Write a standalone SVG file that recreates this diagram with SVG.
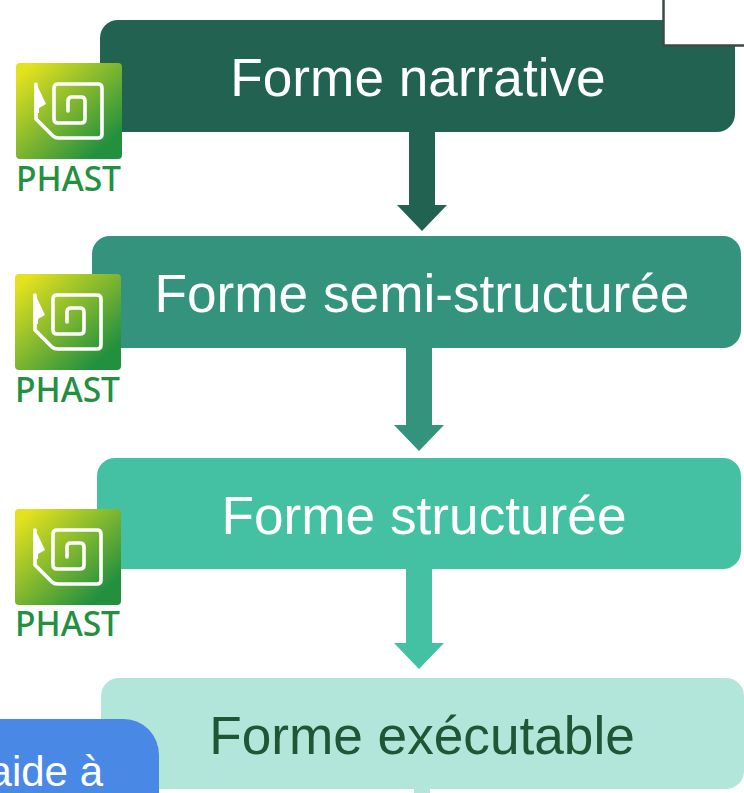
<svg xmlns="http://www.w3.org/2000/svg" width="744" height="793" viewBox="0 0 744 793">
<style>
text{font-family:"Liberation Sans",Arial,sans-serif}
.t{font-size:53.200px;text-anchor:middle}
.w{fill:#fff}
.ph{font-family:"Noto Sans","Open Sans",sans-serif;font-size:33.500px;font-weight:500;fill:#23903f}
.sp{fill:none;stroke:#fff;stroke-width:3.600;stroke-linejoin:round;stroke-linecap:round}
</style>
<defs>
<linearGradient id="g" x1="0" y1="0" x2="1" y2="1"><stop offset="0.08" stop-color="#e4e11e"/><stop offset="0.85" stop-color="#23903f"/></linearGradient>
<g id="logo">
<rect x="0" y="0" width="106" height="96" rx="4" fill="url(#g)"/>
<path class="sp" d="M20 21V56L37 73Q39 75 43 75H82Q86 75 86 71V25Q86 21 82 21H42Q38 21 38 25V56Q38 60 42 60H65Q69 60 69 56V38Q69 34 65 34H56Q52 34 52 38V48"/>
<path d="M18.500 20H20L30 41L23 45V50H18.500Z" fill="#fff"/>
</g>
</defs>
<rect width="744" height="793" fill="#fff"/>
<g id="connectors">
<path d="M409 130H435V205H447L422 231L397 205H409Z" fill="#226251"/>
<path d="M406 346H432V425H444L419 451L394 425H406Z" fill="#33937c"/>
<path d="M406 567H432V643H444L419 669L394 643H406Z" fill="#43c1a2"/>
<rect x="414" y="788" width="16" height="5" fill="#b3e6da"/>
</g>
<g id="node-narrative"><rect x="100" y="20" width="635" height="112" rx="18" fill="#226251"/><text class="t w" x="418" y="96">Forme narrative</text></g>
<g id="node-semi"><rect x="92" y="236" width="649" height="112" rx="18" fill="#33937c"/><text class="t w" x="422" y="312">Forme semi-structurée</text></g>
<g id="node-structuree"><rect x="97" y="458" width="644" height="111" rx="18" fill="#43c1a2"/><text class="t w" x="424" y="534">Forme structurée</text></g>
<g id="node-executable"><rect x="101" y="678" width="643" height="111" rx="18" fill="#b3e6da"/><text class="t" x="422" y="754" fill="#1e5636">Forme exécutable</text></g>
<g id="node-blue"><path d="M0 719H124A35 36 0 0 1 159 755V793H0Z" fill="#4a88e6"/><text x="103" y="786" font-size="42" fill="#fff" text-anchor="end">aide à</text></g>
<g id="node-box"><rect x="663" y="0" width="81" height="45" fill="#fff"/><path d="M663.500 0V45.500H744" fill="none" stroke="#3f4a47" stroke-width="2.500"/></g>
<g id="phast-1"><use href="#logo" x="16" y="63"/><text class="ph" x="16" y="191" textLength="105" lengthAdjust="spacingAndGlyphs">PHAST</text></g>
<g id="phast-2"><use href="#logo" x="15" y="274"/><text class="ph" x="15" y="402" textLength="105" lengthAdjust="spacingAndGlyphs">PHAST</text></g>
<g id="phast-3"><use href="#logo" x="15" y="509"/><text class="ph" x="15" y="636" textLength="105" lengthAdjust="spacingAndGlyphs">PHAST</text></g>
</svg>
